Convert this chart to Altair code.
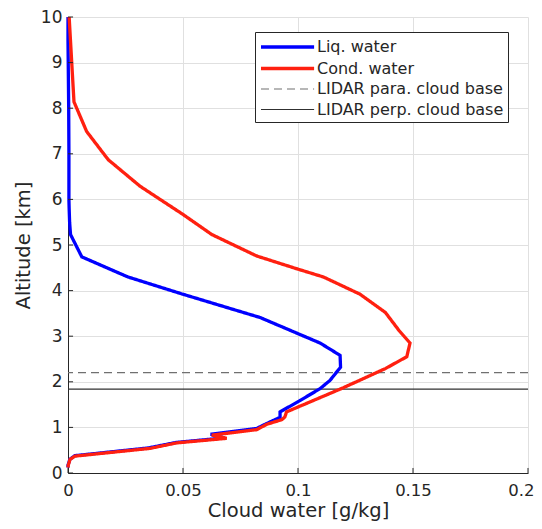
import altair as alt
import pandas as pd

# ---- data ----
liq_alt = [10.0, 9.5, 8.0, 7.0, 6.0, 5.8, 5.5, 5.23, 4.74, 4.30, 3.92, 3.41, 2.85, 2.58, 2.32,
           2.03, 1.85, 1.59, 1.34, 1.22, 1.05, 0.975, 0.85, 0.77, 0.67, 0.55, 0.38, 0.30, 0.17, 0.12]
liq_val = [0.0, 0.0, 0.0003, 0.0004, 0.0004, 0.0005, 0.0007, 0.0011, 0.006, 0.026, 0.050, 0.0835,
           0.1096, 0.1183, 0.1185, 0.1139, 0.1096, 0.1009, 0.0922, 0.0922, 0.0849, 0.082, 0.062,
           0.068, 0.047, 0.035, 0.003, 0.0008, 0.0, 0.0]

cond_alt = [10.0, 9.02, 8.14, 7.49, 6.87, 6.29, 5.67, 5.23, 4.76, 4.47, 4.30, 3.92, 3.52, 3.12,
            2.85, 2.55, 2.29, 1.87, 1.59, 1.34, 1.23, 1.17, 1.07, 0.95, 0.83, 0.76, 0.66, 0.54,
            0.37, 0.30, 0.17, 0.12]
cond_val = [0.0005, 0.0016, 0.0026, 0.0081, 0.0175, 0.0313, 0.050, 0.0625, 0.082, 0.100, 0.111,
            0.127, 0.138, 0.144, 0.1487, 0.1473, 0.138, 0.1197, 0.1067, 0.095, 0.0943, 0.093,
            0.0865, 0.082, 0.0625, 0.069, 0.0472, 0.0357, 0.003, 0.0009, 0.0001, 0.0]

lidar_names = ["LIDAR para. cloud base", "LIDAR perp. cloud base"]
lidar_alt = [2.2, 1.84]

series_names = ["Liq. water", "Cond. water", "LIDAR para. cloud base", "LIDAR perp. cloud base"]
series_colors = ["#0000ff", "#ff2010", "#707070", "#303030"]
series_dash = [[1, 0], [1, 0], [8, 5], [1, 0]]
series_width = [3.3, 3.3, 1.2, 1.1]

x_ticks = [0, 0.05, 0.1, 0.15, 0.2]
y_ticks = list(range(0, 11))

# ---- tables ----
rows = []
for i, (a, v) in enumerate(zip(liq_alt, liq_val)):
    rows.append({"series": "Liq. water", "alt": a, "val": v, "i": i})
for i, (a, v) in enumerate(zip(cond_alt, cond_val)):
    rows.append({"series": "Cond. water", "alt": a, "val": v, "i": i})
df_lines = pd.DataFrame(rows)
df_rules = pd.DataFrame({"series": lidar_names, "alt": lidar_alt})
df_xt = pd.DataFrame({"t": x_ticks})
df_yt = pd.DataFrame({"t": y_ticks})

TXT = "#262626"
FONT = "DejaVu Sans"

xscale = alt.Scale(domain=[0, 0.2], nice=False)
yscale = alt.Scale(domain=[0, 10], nice=False)

legend = alt.Legend(
    title=None, orient="none", legendX=187, legendY=15,
    symbolType="M-1,0H4.9", symbolSize=324,
    labelFontSize=16, labelFont=FONT, labelColor=TXT, labelOffset=36,
    strokeColor="#262626", fillColor="white", padding=4, rowPadding=2.5,
    labelLimit=300,
)

color = alt.Color("series:N", scale=alt.Scale(domain=series_names, range=series_colors), legend=legend)
dash = alt.StrokeDash("series:N", scale=alt.Scale(domain=series_names, range=series_dash), legend=legend)
width = alt.StrokeWidth("series:N", scale=alt.Scale(type="ordinal", domain=series_names, range=series_width),
                        legend=legend)

xaxis = alt.Axis(values=x_ticks, format="~g", title="Cloud water [g/kg]", grid=True, ticks=False,
                 labelPadding=9, titlePadding=3, labelFlush=False, labelFontSize=16.5,
                 labelAlign={"condition": {"test": "datum.value >= 0.2", "value": "right"}, "value": "center"},
                 labelOffset={"condition": {"test": "datum.value >= 0.2", "value": 6}, "value": 0})
yaxis = alt.Axis(values=y_ticks, title="Altitude [km]", grid=True, ticks=False,
                 labelPadding=6, titlePadding=7, labelFlush=False)

lines = alt.Chart(df_lines).mark_line(strokeCap="butt", strokeJoin="miter").encode(
    x=alt.X("val:Q", scale=xscale, axis=xaxis),
    y=alt.Y("alt:Q", scale=yscale, axis=yaxis),
    order=alt.Order("i:Q"),
    color=color, strokeDash=dash, strokeWidth=width,
)

rules = alt.Chart(df_rules).mark_rule().encode(
    y=alt.Y("alt:Q", scale=yscale),
    color=color, strokeDash=dash, strokeWidth=width,
)

xt = alt.Chart(df_xt).mark_rule(color=TXT, strokeWidth=1).encode(
    x=alt.X("t:Q", scale=xscale), y=alt.datum(0), y2=alt.datum(0.11)
)
yt = alt.Chart(df_yt).mark_rule(color=TXT, strokeWidth=1).encode(
    y=alt.Y("t:Q", scale=yscale), x=alt.datum(0), x2=alt.datum(0.0022)
)

chart = alt.layer(rules, lines, xt, yt).properties(
    width=460, height=456,
    autosize=alt.AutoSizeParams(type="none"),
    padding={"left": 60, "top": 9, "right": 6, "bottom": 48},
).configure_view(stroke=None).configure_axis(
    labelFont=FONT, titleFont=FONT, labelFontSize=17, titleFontSize=19.5,
    labelColor=TXT, titleColor=TXT, titleFontWeight="normal",
    domainColor=TXT, domainWidth=1, gridColor="#e0e0e0", gridWidth=1,
)

chart.save("out.html", embed_options={"renderer": "svg", "actions": False})
